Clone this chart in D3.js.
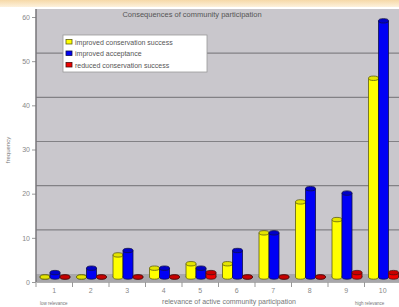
<!DOCTYPE html>
<html>
<head>
<meta charset="utf-8">
<script src="https://cdn.jsdelivr.net/npm/d3@7"></script>
<style>
  html, body { margin: 0; padding: 0; background: #fff; }
  svg { display: block; font-family: "Liberation Sans", Arial, sans-serif; }
</style>
</head>
<body>
<svg id="chart" width="399" height="307"></svg>
<script>
const categories = ['1', '2', '3', '4', '5', '6', '7', '8', '9', '10'];
const seriesNames = ['improved conservation success', 'improved acceptance', 'reduced conservation success'];
const improvedSuccess = [0, 0, 5, 2, 3, 3, 10, 17, 13, 45];
const improvedAcceptance = [1, 2, 6, 2, 2, 6, 10, 20, 19, 58];
const reducedSuccess = [0, 0, 0, 0, 1, 0, 0, 0, 1, 1];
const yTicks = [0, 10, 20, 30, 40, 50, 60];

const svg = d3.select('#chart');
const width = 399, height = 307;
const plotLeft = 36, plotRight = 401, plotTop = 17, plotBottom = 282;
const depth = 8;

// orange strip at the very top
const defs = svg.append('defs');
const grad = defs.append('linearGradient').attr('id', 'band').attr('x1', 0).attr('x2', 0).attr('y1', 0).attr('y2', 1);
grad.append('stop').attr('offset', '0%').attr('stop-color', '#f6d9a8');
grad.append('stop').attr('offset', '100%').attr('stop-color', '#fdf1dc');
svg.append('rect').attr('x', 0).attr('y', 0).attr('width', width).attr('height', 7).attr('fill', 'url(#band)');

const x = d3.scaleBand().domain(categories).range([plotLeft, plotRight]);
const y = d3.scaleLinear().domain([0, 60]).range([plotBottom, plotTop]);
const sub = d3.scaleBand().domain(seriesNames).range([4, 34]);

// back wall and floor
svg.append('rect').attr('x', plotLeft).attr('y', y(60) - depth).attr('width', width - plotLeft)
    .attr('height', plotBottom - depth - (y(60) - depth)).attr('fill', '#c9c7cc');
svg.append('rect').attr('x', plotLeft).attr('y', plotBottom - depth).attr('width', width - plotLeft)
    .attr('height', depth).attr('fill', '#a8a7ab');

// gridlines on the back wall
svg.append('g').selectAll('line').data(yTicks.filter(d => d > 0 && d < 60)).join('line')
    .attr('x1', plotLeft).attr('x2', width)
    .attr('y1', d => y(d) - depth).attr('y2', d => y(d) - depth)
    .attr('stroke', '#828185').attr('stroke-width', 1.2);

// y axis
const yAxis = svg.append('g').attr('transform', `translate(${plotLeft},0)`)
    .call(d3.axisLeft(y).tickValues(yTicks).tickSize(4).tickPadding(2));
yAxis.select('.domain').remove();
yAxis.selectAll('line').attr('stroke', '#999');
yAxis.selectAll('text').attr('fill', '#888').attr('font-size', 7);
svg.append('line').attr('x1', plotLeft).attr('x2', plotLeft).attr('y1', y(60) - depth).attr('y2', plotBottom)
    .attr('stroke', '#77767a').attr('stroke-width', 1.5);

// x axis
const xAxis = svg.append('g').attr('transform', `translate(0,${plotBottom})`)
    .call(d3.axisBottom(x).tickSize(0).tickPadding(6));
xAxis.select('.domain').attr('stroke', '#b0b0b0');
xAxis.selectAll('text').attr('fill', '#888').attr('font-size', 7);
svg.append('g').selectAll('line').data(categories).join('line')
    .attr('x1', d => x(d)).attr('x2', d => x(d))
    .attr('y1', plotBottom).attr('y2', plotBottom + 5).attr('stroke', '#999');

// bars as cylinders
const colors = {
  'improved conservation success': { fill: '#ffff00', cap: '#e4e400', stroke: '#5e5e10' },
  'improved acceptance': { fill: '#0000f5', cap: '#0000c8', stroke: '#10104a' },
  'reduced conservation success': { fill: '#ee0000', cap: '#c80000', stroke: '#4a1010' }
};
const seriesValues = [improvedSuccess, improvedAcceptance, reducedSuccess];
const rows = [];
categories.forEach((c, i) => {
  seriesNames.forEach((s, j) => rows.push({ cat: c, series: s, value: seriesValues[j][i] }));
});
const off = 5;
const bw = sub.bandwidth();
const ry = 2.2;
const bars = svg.append('g').selectAll('g').data(rows).join('g')
    .attr('transform', d => `translate(${x(d.cat) + sub(d.series)},0)`);
bars.append('ellipse')
    .attr('cx', bw / 2).attr('cy', plotBottom - off).attr('rx', bw / 2).attr('ry', ry)
    .attr('fill', d => colors[d.series].fill).attr('stroke', d => colors[d.series].stroke).attr('stroke-width', 0.8);
bars.append('rect')
    .attr('x', 0).attr('width', bw)
    .attr('y', d => y(d.value) - off).attr('height', d => plotBottom - y(d.value))
    .attr('fill', d => colors[d.series].fill).attr('stroke', 'none');
bars.append('line').attr('x1', 0).attr('x2', 0)
    .attr('y1', d => y(d.value) - off).attr('y2', plotBottom - off)
    .attr('stroke', d => colors[d.series].stroke).attr('stroke-width', 0.8);
bars.append('line').attr('x1', bw).attr('x2', bw)
    .attr('y1', d => y(d.value) - off).attr('y2', plotBottom - off)
    .attr('stroke', d => colors[d.series].stroke).attr('stroke-width', 0.8);
bars.append('ellipse')
    .attr('cx', bw / 2).attr('cy', d => y(d.value) - off).attr('rx', bw / 2).attr('ry', ry)
    .attr('fill', d => colors[d.series].cap).attr('stroke', d => colors[d.series].stroke).attr('stroke-width', 0.8);

// title
svg.append('text').attr('x', 192).attr('y', 17).attr('text-anchor', 'middle')
    .attr('font-size', 7.5).attr('fill', '#555').text('Consequences of community participation');

// legend
const legend = svg.append('g').attr('transform', 'translate(63,35)');
legend.append('rect').attr('width', 144).attr('height', 37).attr('fill', '#fff').attr('stroke', '#999').attr('stroke-width', 0.8);
const items = legend.selectAll('g').data(seriesNames).join('g')
    .attr('transform', (d, i) => `translate(3,${7 + i * 11.5})`);
items.append('rect').attr('x', 0).attr('y', -2.5).attr('width', 6).attr('height', 4.5)
    .attr('fill', d => colors[d].fill).attr('stroke', d => colors[d].stroke).attr('stroke-width', 0.8);
items.append('text').attr('x', 9).attr('y', 2.5).attr('font-size', 7).attr('fill', '#555').text(d => d);

// axis titles
svg.append('text').attr('transform', 'translate(10,150) rotate(-90)').attr('text-anchor', 'middle')
    .attr('font-size', 6).attr('fill', '#777').text('frequency');
svg.append('text').attr('x', 229).attr('y', 304).attr('text-anchor', 'middle')
    .attr('font-size', 7).attr('fill', '#777').text('relevance of active community participation');
svg.append('text').attr('x', 40).attr('y', 305).attr('font-size', 4.5).attr('fill', '#777').text('low relevance');
svg.append('text').attr('x', 355).attr('y', 305).attr('font-size', 4.5).attr('fill', '#777').text('high relevance');
</script>
</body>
</html>
